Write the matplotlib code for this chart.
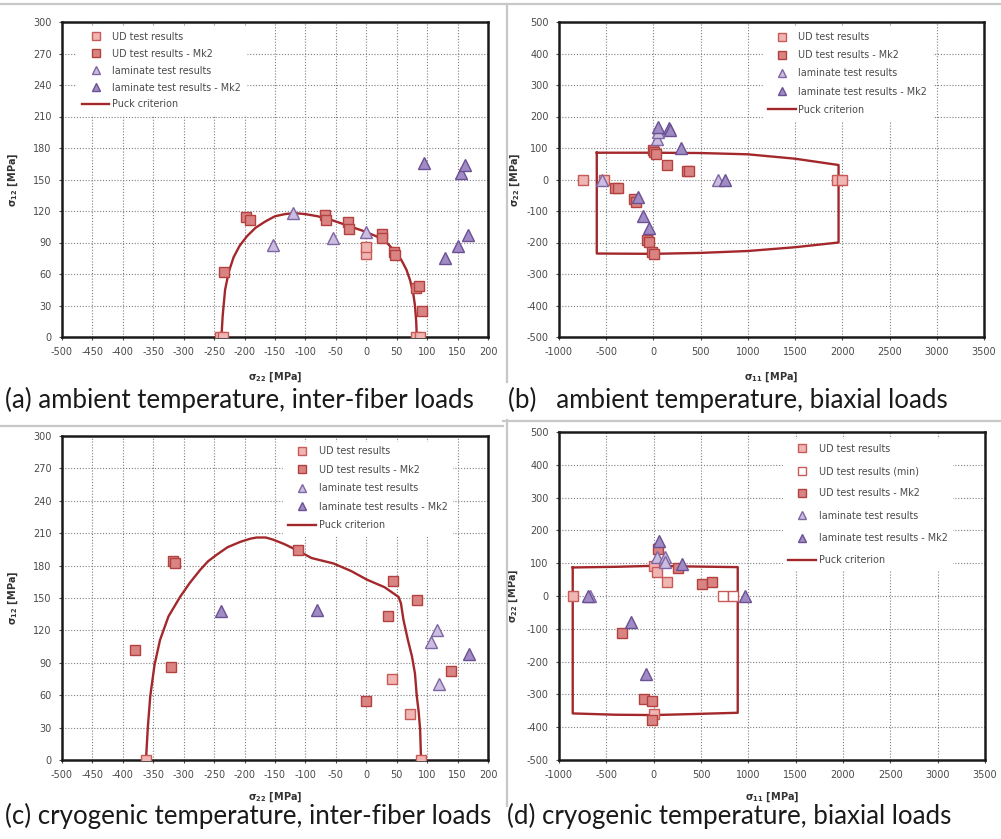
import matplotlib
matplotlib.use("Agg")
import matplotlib.pyplot as plt
from matplotlib.lines import Line2D

plt.rcParams["font.family"] = ["DejaVu Sans"]
plt.rcParams["axes.unicode_minus"] = False

W, H = 1001, 839

# ─────────────────────────────────────────────
# DATA  (a) ambient, inter-fiber: sigma22 vs sigma12
# ─────────────────────────────────────────────
a_ud_x = [-240, -236, 0, 0, 82, 88]
a_ud_y = [0, 0, 79, 86, 0, 0]
a_mk2_x = [-233, -197, -191, -68, -66, -30, -28, 25, 26, 45, 47, 82, 86, 92]
a_mk2_y = [62, 114, 111, 116, 111, 110, 103, 98, 94, 81, 78, 47, 49, 25]
a_lam_x = [-153, -120, -55, 0]
a_lam_y = [88, 118, 94, 100]
a_lam2_x = [95, 130, 150, 155, 162, 167]
a_lam2_y = [166, 75, 87, 156, 164, 97]
a_puck_x = [-238, -236, -232, -226, -218, -208, -196, -182, -166, -150, -134, -118,
            -100, -80, -60, -40, -20, 0, 20, 35, 48, 58, 66, 72, 77, 80, 82, 83]
a_puck_y = [0, 20, 45, 62, 76, 87, 96, 104, 110, 115, 117, 118,
            117, 115, 112, 108, 104, 100, 95, 89, 81, 73, 64, 54, 42, 30, 15, 0]

# (b) ambient, biaxial: sigma11 vs sigma22
b_ud_x = [-742, -520, 1947, 1993]
b_ud_y = [0, 0, 0, 0]
b_mk2_x = [-407, -372, -203, -187, -65, -48, -12, 5, -5, 11, 27, 140, 359, 380]
b_mk2_y = [-26, -28, -63, -70, -192, -197, -231, -237, 94, 88, 81, 46, 28, 28]
b_lam_x = [-548, 40, 45, 687]
b_lam_y = [0, 130, 150, 0]
b_lam2_x = [-160, -114, -47, 51, 165, 172, 288, 758]
b_lam2_y = [-55, -116, -153, 167, 164, 156, 100, 0]
b_puck_x = [-600, 0, 500, 1000, 1500, 1960, 1960, 1500, 1000, 500, 0, -600, -600]
b_puck_y = [85, 85, 84, 80, 66, 46, -200, -215, -227, -233, -236, -235, 85]

# (c) cryogenic, inter-fiber
c_ud_x = [-362, 90, 43, 72]
c_ud_y = [0, 0, 75, 43]
c_mk2_x = [-317, -314, -380, -321, -113, 44, 84, 36, -1, 140]
c_mk2_y = [184, 182, 102, 86, 194, 166, 148, 133, 55, 82]
c_lam_x = [107, 117, 120]
c_lam_y = [109, 120, 70]
c_lam2_x = [-239, -81, 168]
c_lam2_y = [138, 139, 98]
c_puck_x = [-362, -359, -355, -348, -339, -325, -306, -290, -273, -260, -246, -228,
            -207, -190, -180, -165, -153, -135, -113, -90, -54, -25, 1, 30, 53,
            57, 61, 68, 75, 80, 83, 86, 88.5, 90]
c_puck_y = [0, 30, 59, 88, 111, 133, 151, 164, 176, 184, 190, 197,
            202, 205, 206, 206, 204, 200, 194, 187, 182, 175, 167, 160, 151,
            145, 130, 112, 96, 80, 59, 45, 28, 0]

# (d) cryogenic, biaxial
d_ud_x = [-855, 7, 32, 137, 3]
d_ud_y = [0, 92, 72, 44, -361]
d_min_x = [736, 841]
d_min_y = [0, 0]
d_mk2_x = [49, -102, -21, -21, -331, 509, 620, 261]
d_mk2_y = [142, -315, -319, -378, -112, 37, 44, 84]
d_lam_x = [32, 120, 118, -672]
d_lam_y = [120, 120, 105, 0]
d_lam2_x = [56, 296, -695, 965, -243, -81]
d_lam2_y = [169, 98, 0, 0, -79, -238]
d_puck_x = [-855, -400, 0, 400, 888, 888, 400, 0, -400, -855, -855]
d_puck_y = [87, 89, 92, 90, 88, -356, -360, -363, -362, -358, 87]

captions = ["(a) ambient temperature, inter-fiber loads",
            "(b)   ambient temperature, biaxial loads",
            "(c) cryogenic temperature, inter-fiber loads",
            "(d) cryogenic temperature, biaxial loads"]

# ─────────────────────────────────────────────
# STYLE
# ─────────────────────────────────────────────
UD_FACE, UD_EDGE = "#F0B6B4", "#C85A58"
MK2_FACE, MK2_EDGE = "#D98483", "#B2413F"
LAM_FACE, LAM_EDGE = "#CBBDDF", "#7E66A4"
LAM2_FACE, LAM2_EDGE = "#A08BC4", "#6B5194"
PUCK = "#A3282B"
GRID = "#7f7f7f"
TXT = "#4a4a4a"


def px_rect(l, r, t, b):
    return [l / W, 1 - b / H, (r - l) / W, (b - t) / H]


def pts(ax, x, y, marker, face, edge, label, ms):
    ax.plot(x, y, linestyle="none", marker=marker, ms=ms, mfc=face, mec=edge,
            mew=1.0, label=label, zorder=4)


def panel(rect, xlim, xstep, ylim, ystep, xlab, ylab, ylab_x, xlab_y):
    ax = fig.add_axes(rect)
    ax.set_xlim(*xlim)
    ax.set_ylim(*ylim)
    ax.set_xticks(range(xlim[0], xlim[1] + 1, xstep))
    ax.set_yticks(range(ylim[0], ylim[1] + 1, ystep))
    ax.grid(True, color=GRID, linestyle=(0, (1, 1.6)), linewidth=0.8)
    ax.set_axisbelow(True)
    for s in ax.spines.values():
        s.set_linewidth(1.8)
        s.set_color("#1a1a1a")
    ax.tick_params(length=2.5, width=0.8, pad=5, labelsize=7, colors=TXT)
    ax.set_xlabel(xlab, fontsize=7, fontweight="bold", color="#333333")
    ax.set_ylabel(ylab, fontsize=7, fontweight="bold", color="#333333")
    ax.yaxis.set_label_coords(ylab_x, 0.5)
    ax.xaxis.set_label_coords(0.5, xlab_y)
    return ax


def legend(ax, anchor, spacing):
    lg = ax.legend(loc="upper left", bbox_to_anchor=anchor, borderaxespad=0,
                   borderpad=0.5, frameon=True, fancybox=False, framealpha=1,
                   facecolor="white", edgecolor="white", fontsize=6.9,
                   labelspacing=spacing, handlelength=2.9, handletextpad=0.3,
                   markerscale=0.75)
    for t in lg.get_texts():
        t.set_color(TXT)
    lg.set_zorder(3)


fig = plt.figure(figsize=(W / 100, H / 100), dpi=100)

s12 = r"$\mathbf{\sigma_{12}}$ [MPa]"
s22 = r"$\mathbf{\sigma_{22}}$ [MPa]"
s11 = r"$\mathbf{\sigma_{11}}$ [MPa]"

# (a)
ax = panel(px_rect(62, 488, 22, 337), (-500, 200), 50, (0, 300), 30,
           s22, s12, -42 / 426, -33 / 315)
pts(ax, a_ud_x, a_ud_y, "s", UD_FACE, UD_EDGE, "UD test results", 7.5)
pts(ax, a_mk2_x, a_mk2_y, "s", MK2_FACE, MK2_EDGE, "UD test results - Mk2", 7.5)
pts(ax, a_lam_x, a_lam_y, "^", LAM_FACE, LAM_EDGE, "laminate test results", 8)
pts(ax, a_lam2_x, a_lam2_y, "^", LAM2_FACE, LAM2_EDGE, "laminate test results - Mk2", 8)
ax.plot(a_puck_x, a_puck_y, color=PUCK, lw=1.7, label="Puck criterion", zorder=3.5)
legend(ax, (0.035, 0.984), 0.72)

# (b)
ax = panel(px_rect(559, 984, 22, 337), (-1000, 3500), 500, (-500, 500), 100,
           s11, s22, -37 / 425, -33 / 315)
pts(ax, b_ud_x, b_ud_y, "s", UD_FACE, UD_EDGE, "UD test results", 7.5)
pts(ax, b_mk2_x, b_mk2_y, "s", MK2_FACE, MK2_EDGE, "UD test results - Mk2", 7.5)
pts(ax, b_lam_x, b_lam_y, "^", LAM_FACE, LAM_EDGE, "laminate test results", 8)
pts(ax, b_lam2_x, b_lam2_y, "^", LAM2_FACE, LAM2_EDGE, "laminate test results - Mk2", 8)
ax.plot(b_puck_x, b_puck_y, color=PUCK, lw=1.7, label="Puck criterion", zorder=3.5)
legend(ax, (0.48, 0.983), 0.85)

# (c)
ax = panel(px_rect(62, 488, 436, 760), (-500, 200), 50, (0, 300), 30,
           s22, s12, -42 / 426, -30 / 324)
pts(ax, c_ud_x, c_ud_y, "s", UD_FACE, UD_EDGE, "UD test results", 7.5)
pts(ax, c_mk2_x, c_mk2_y, "s", MK2_FACE, MK2_EDGE, "UD test results - Mk2", 7.5)
pts(ax, c_lam_x, c_lam_y, "^", LAM_FACE, LAM_EDGE, "laminate test results", 8)
pts(ax, c_lam2_x, c_lam2_y, "^", LAM2_FACE, LAM2_EDGE, "laminate test results - Mk2", 8)
ax.plot(c_puck_x, c_puck_y, color=PUCK, lw=1.7, label="Puck criterion", zorder=3.5)
legend(ax, (0.519, 0.983), 0.88)

# (d)
ax = panel(px_rect(559, 985, 432, 760), (-1000, 3500), 500, (-500, 500), 100,
           s11, s22, -39 / 426, -30 / 328)
pts(ax, d_ud_x, d_ud_y, "s", UD_FACE, UD_EDGE, "UD test results", 7.5)
pts(ax, d_min_x, d_min_y, "s", "white", UD_EDGE, "UD test results (min)", 7.5)
pts(ax, d_mk2_x, d_mk2_y, "s", MK2_FACE, MK2_EDGE, "UD test results - Mk2", 7.5)
pts(ax, d_lam_x, d_lam_y, "^", LAM_FACE, LAM_EDGE, "laminate test results", 8)
pts(ax, d_lam2_x, d_lam2_y, "^", LAM2_FACE, LAM2_EDGE, "laminate test results - Mk2", 8)
ax.plot(d_puck_x, d_puck_y, color=PUCK, lw=1.7, label="Puck criterion", zorder=3.5)
legend(ax, (0.526, 0.979), 1.29)

# ─────────────────────────────────────────────
# CAPTIONS & SEPARATORS
# ─────────────────────────────────────────────
cap = dict(fontsize=16, color="#1a1a1a", va="center", ha="left",
           family=["Lato", "DejaVu Sans"], fontweight="normal")
cap_pos = [(5, 400), (508, 400), (5, 816), (507, 816)]
texts = [fig.text(x / W, 1 - y / H, s, **cap) for (x, y), s in zip(cap_pos, captions)]

# scale caption font so caption (a) spans about 470 px like the reference
fig.canvas.draw()
wa = texts[0].get_window_extent().width
for t in texts:
    t.set_fontsize(16 * 470 / wa)

sep = dict(color="#c8c8c8", lw=1.6, transform=fig.transFigure)
for (x0, y0, x1, y1) in [(0, 4, W, 4), (507, 5, 507, 382), (507, 420, 507, 806),
                         (0, 426, 503, 426), (503, 421, W, 421)]:
    fig.add_artist(Line2D([x0 / W, x1 / W], [1 - y0 / H, 1 - y1 / H], **sep))

fig.savefig("out.png", dpi=100)
